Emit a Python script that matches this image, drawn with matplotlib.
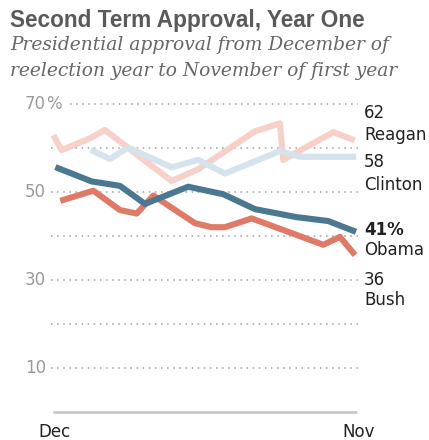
import matplotlib
matplotlib.use("Agg")
import matplotlib.pyplot as plt

# months after December of reelection year (0 = Dec, 11 = Nov)
reagan_x = [0.07, 0.31, 1.34, 1.88, 4.29, 5.26, 7.31, 8.21, 8.33, 10.14, 10.81]
reagan_y = [62.3, 59.5, 62.2, 64.1, 52.5, 55.2, 63.8, 65.6, 57.3, 63.6, 62.0]

clinton_x = [1.46, 2.06, 2.72, 4.29, 5.26, 6.22, 8.21, 8.94, 10.86]
clinton_y = [59.3, 57.5, 60.1, 55.6, 57.3, 54.2, 59.3, 58.0, 58.0]

obama_x = [0.19, 1.40, 2.42, 3.33, 4.89, 6.16, 7.31, 8.80, 9.96, 10.86]
obama_y = [55.4, 52.4, 51.4, 47.3, 51.2, 49.5, 46.1, 44.3, 43.4, 41.2]

bush_x = [0.37, 1.46, 2.42, 3.03, 3.63, 5.14, 5.74, 6.22, 7.19, 9.78, 10.38, 10.86]
bush_y = [48.2, 50.3, 45.9, 45.1, 49.2, 42.9, 42.0, 42.0, 44.0, 38.0, 39.8, 36.2]

grid_values = [70, 60, 50, 40, 30, 20, 10]
tick_values = [70, 50, 30, 10]
tick_labels = ["70", "50", "30", "10"]

end_labels = [("62", 66.75, "normal"), ("Reagan", 61.8, "normal"),
              ("58", 55.75, "normal"), ("Clinton", 50.5, "normal"),
              ("41%", 40.2, "bold"), ("Obama", 35.7, "normal"),
              ("36", 28.9, "normal"), ("Bush", 24.3, "normal")]

fig = plt.figure(figsize=(4.29, 4.40), dpi=100)
ax = fig.add_axes([53 / 429, 28 / 440, 304 / 429, 308 / 440])
ax.set_xlim(0, 11)
ax.set_ylim(0, 70)
ax.axis("off")

# dotted grid
for v in grid_values:
    x0 = 0.62 if v == 70 else -0.07
    ax.plot([x0, 11.04], [v, v], color="#a0a0a0", lw=1.1,
            linestyle=(0, (1, 3)), clip_on=False, zorder=1)
ax.plot([0, 11], [0, 0], color="#c8c8c8", lw=2, clip_on=False, solid_capstyle="butt")

lw = 4.4
ax.plot(reagan_x, reagan_y, color="#f6d0c9", lw=lw, clip_on=False, zorder=2)
ax.plot(clinton_x, clinton_y, color="#d5e3ed", lw=lw, clip_on=False, zorder=2)
ax.plot(bush_x, bush_y, color="#e07a68", lw=lw, clip_on=False, zorder=3)
ax.plot(obama_x, obama_y, color="#4b7891", lw=lw, clip_on=False, zorder=4)

font = "DejaVu Sans"
for v, lab in zip(tick_values, tick_labels):
    ax.text(-0.25, v, lab, ha="right", va="center", fontsize=12,
            color="#9a9a9a", family=font)
ax.text(-0.25, 70, "%", ha="left", va="center", fontsize=12,
        color="#9a9a9a", family=font)

ax.text(0.05, -2.6, "Dec", ha="center", va="top", fontsize=12, color="#222222", family=font)
ax.text(11.05, -2.6, "Nov", ha="center", va="top", fontsize=12, color="#222222", family=font)

for lab, v, w in end_labels:
    ax.text(11.25, v, lab, ha="left", va="baseline", fontsize=12,
            color="#222222", fontweight=w, family=font, clip_on=False)

fig.text(10 / 429, 1 - 27 / 440, "Second Term Approval, Year One", ha="left",
         va="baseline", fontsize=16.3, fontweight="bold", color="#5a5a5a",
         family="Liberation Sans")
fig.text(10 / 429, 1 - 50 / 440, "Presidential approval from December of", ha="left",
         va="baseline", fontsize=13.4, style="italic", color="#666666", family="DejaVu Serif")
fig.text(10 / 429, 1 - 76 / 440, "reelection year to November of first year", ha="left",
         va="baseline", fontsize=13.4, style="italic", color="#666666", family="DejaVu Serif")

fig.savefig("out.png", dpi=100)
